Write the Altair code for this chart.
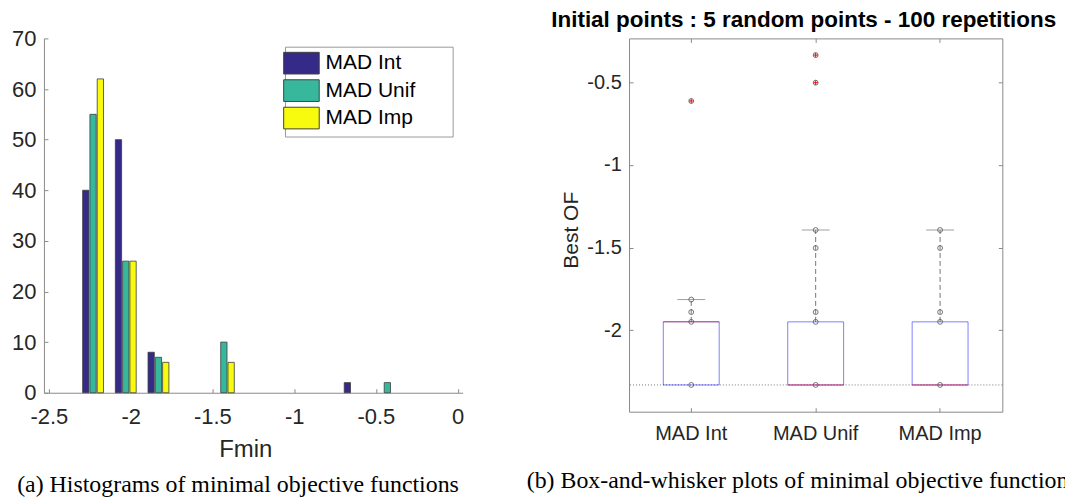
import altair as alt
import pandas as pd

# ---------------- data: histogram panel ----------------
bin_centers = [-2.23, -2.03, -1.83, -1.63, -1.43, -1.23, -1.03, -0.83, -0.63, -0.43]
series_names = ["MAD Int", "MAD Unif", "MAD Imp"]
counts_int = [40, 50, 8, 0, 0, 0, 0, 0, 2, 0]
counts_unif = [55, 26, 7, 0, 10, 0, 0, 0, 0, 2]
counts_imp = [62, 26, 6, 0, 6, 0, 0, 0, 0, 0]
series_colors = ["#352a87", "#37b89d", "#f9fb0e"]
hist_x_ticks = [-2.5, -2, -1.5, -1, -0.5, 0]
hist_y_ticks = [0, 10, 20, 30, 40, 50, 60, 70]

# ---------------- data: box-and-whisker panel ----------------
box_cats = ["MAD Int", "MAD Unif", "MAD Imp"]
box_q1 = [-2.332, -2.332, -2.332]
box_median = [-1.950, -2.332, -2.332]
box_q3 = [-1.950, -1.950, -1.950]
box_whisker_hi = [-1.815, -1.394, -1.394]
points_int = [-0.613, -1.815, -1.891, -1.950, -2.332]
points_unif = [-0.335, -0.502, -1.394, -1.503, -1.891, -1.950, -2.332]
points_imp = [-1.394, -1.503, -1.891, -1.950, -2.332]
outliers_int = [-0.613]
outliers_unif = [-0.335, -0.502]
outliers_imp = []
global_min = [-2.332]
box_y_ticks = [-2, -1.5, -1, -0.5]

caption_a = "(a) Histograms of minimal objective functions"
caption_b = "(b) Box-and-whisker plots of minimal objective functions"
title_b = "Initial points : 5 random points - 100 repetitions"

SANS = "Liberation Sans"
SERIF = "Liberation Serif"
AXIS_GRAY = "#8a8a8a"
TXT = "#262626"
CAP_SIZE = 23.9

# ---------------- build tables ----------------
rows = []
for s, cs in zip(series_names, [counts_int, counts_unif, counts_imp]):
    for c, n in zip(bin_centers, cs):
        rows.append({"center": c, "series": s, "n": n})
hist_df = pd.DataFrame(rows)

box_df = pd.DataFrame({"cat": box_cats, "q1": box_q1, "median": box_median,
                       "q3": box_q3, "whi": box_whisker_hi})
pts = []
for c, vals in zip(box_cats, [points_int, points_unif, points_imp]):
    for v in vals:
        pts.append({"cat": c, "v": v})
pts_df = pd.DataFrame(pts)
outs = []
for c, vals in zip(box_cats, [outliers_int, outliers_unif, outliers_imp]):
    for v in vals:
        outs.append({"cat": c, "v": v})
outs_df = pd.DataFrame(outs)
min_df = pd.DataFrame({"v": global_min})
cap_df = pd.DataFrame({"t": [caption_b]})

# ---------------- left: histogram ----------------
LW, LH = 419.5, 355
bar_offsets = [-7.3, 0, 7.3]

x_hist = alt.X("center:Q",
               scale=alt.Scale(domain=[-2.5, 0], nice=False, zero=False),
               axis=alt.Axis(values=hist_x_ticks, labelExpr="'' + datum.value",
                             labelFont=SANS, labelFontSize=22, labelColor=TXT,
                             labelPadding=14.3, ticks=False, tickSize=0,
                             domainColor=AXIS_GRAY, domainWidth=1,
                             grid=True, gridColor=AXIS_GRAY, gridWidth=1,
                             gridDash=[0, LH - 4, 4, 2000],
                             title="Fmin", titleFont=SANS, titleFontSize=24,
                             titleFontWeight="normal", titleColor=TXT,
                             titleX=201.7, titleY=64, titleAlign="center",
                             titleBaseline="alphabetic", labelFlush=False))
y_hist = alt.Y("n:Q",
               scale=alt.Scale(domain=[0, 70], nice=False),
               axis=alt.Axis(values=hist_y_ticks, labelFont=SANS, labelFontSize=22,
                             labelColor=TXT, labelPadding=8, ticks=False, tickSize=0,
                             domainColor=AXIS_GRAY, domainWidth=1,
                             grid=True, gridColor=AXIS_GRAY, gridWidth=1,
                             gridDash=[4, 3000], title=None))
fill_enc = alt.Fill("series:N",
                    scale=alt.Scale(domain=series_names, range=series_colors),
                    legend=alt.Legend(title=None, orient="none", legendX=241.5, legendY=8.3,
                                      direction="vertical",
                                      symbolType="M-1.64,-1L1.64,-1L1.64,1L-1.64,1Z",
                                      symbolSize=471, symbolStrokeColor="#404040",
                                      symbolStrokeWidth=1, symbolOpacity=1,
                                      labelFont=SANS, labelFontSize=21, labelColor="#000000",
                                      labelOffset=12.7, rowPadding=0.5, padding=5,
                                      strokeColor="#9a9a9a", fillColor="white",
                                      labelLimit=400,
                                      labelExpr="datum.label + '\u2002\u2002\u2002\u200b'"))

hist_base = alt.Chart(hist_df).encode(x=x_hist, y=y_hist, fill=fill_enc)
hist_layers = []
for s, off in zip(series_names, bar_offsets):
    hist_layers.append(
        hist_base.transform_filter((alt.datum.series == s) & (alt.datum.n > 0))
        .mark_bar(width=6.3, xOffset=off, stroke="#3c3c3c", strokeWidth=0.8)
    )

left = alt.layer(*hist_layers).properties(
    width=LW, height=LH,
    view=alt.ViewBackground(stroke="transparent"),
    title=alt.TitleParams(caption_a, orient="bottom", anchor="start", frame="group",
                          font=SERIF, fontSize=CAP_SIZE, fontWeight="normal",
                          color="#000000", offset=11.5, dx=-26.8),
)

# ---------------- right: box plot ----------------
RW, RH = 374, 374
y_dom = [-2.494, -0.234]

x_box = alt.X("cat:N", sort=box_cats,
              scale=alt.Scale(domain=box_cats, paddingInner=0, paddingOuter=0),
              axis=alt.Axis(labelFont=SANS, labelFontSize=20, labelColor=TXT, labelAngle=0,
                            labelPadding=11.9, ticks=False, tickSize=0, domain=False,
                            bandPosition=0.5,
                            grid=True, gridColor=AXIS_GRAY, gridWidth=1,
                            gridDash=[4, RH - 8, 4, 2000], title=None))
y_scale = alt.Scale(domain=y_dom, nice=False, zero=False)
y_axis = alt.Axis(values=box_y_ticks, labelExpr="'' + datum.value",
                  labelFont=SANS, labelFontSize=20, labelColor=TXT, labelPadding=7.8,
                  ticks=False, tickSize=0, domain=False,
                  grid=True, gridColor=AXIS_GRAY, gridWidth=1,
                  gridDash=[4, RW - 8, 4, 2000],
                  title="Best OF", titleFont=SANS, titleFontSize=21,
                  titleFontWeight="normal", titleColor=TXT,
                  titleX=-51.5, titleY=191.7, titleAngle=270, titleAlign="center",
                  titleBaseline="alphabetic")

ref_line = alt.Chart(min_df).mark_rule(color="#555555", strokeWidth=0.8,
                                       strokeDash=[1, 2]).encode(
    y=alt.Y("v:Q", scale=y_scale, axis=y_axis))

box_base = alt.Chart(box_df)
whisk = box_base.mark_rule(color="#777777", strokeWidth=1, strokeDash=[5, 3]).encode(
    x=x_box, y=alt.Y("q3:Q", scale=y_scale, axis=y_axis), y2="whi:Q")
caps = box_base.mark_tick(color="#777777", size=28, thickness=1).encode(
    x=x_box, y=alt.Y("whi:Q", scale=y_scale, axis=y_axis))
boxes = box_base.mark_bar(width=56, fill="white", fillOpacity=0, stroke="#0000ff",
                          strokeOpacity=0.5, strokeWidth=1).encode(
    x=x_box, y=alt.Y("q1:Q", scale=y_scale, axis=y_axis), y2="q3:Q")
medians = box_base.mark_tick(color="#ff0000", opacity=0.6, size=56, thickness=1).encode(
    x=x_box, y=alt.Y("median:Q", scale=y_scale, axis=y_axis))
points = alt.Chart(pts_df).mark_point(shape="circle", filled=False, size=24,
                                      color="#555555", strokeWidth=0.8, opacity=1).encode(
    x=x_box, y=alt.Y("v:Q", scale=y_scale, axis=y_axis))
outliers = alt.Chart(outs_df).mark_point(shape="M-1,0L1,0M0,-1L0,1", filled=False, size=20,
                                         color="#ff0000", strokeWidth=1, opacity=1).encode(
    x=x_box, y=alt.Y("v:Q", scale=y_scale, axis=y_axis))
cap_b = alt.Chart(cap_df).mark_text(align="left", baseline="alphabetic", font=SERIF,
                                    fontSize=CAP_SIZE, color="#000000").encode(
    x=alt.value(-102.5), y=alt.value(RH + 76), text="t:N")

right = alt.layer(ref_line, whisk, caps, boxes, medians, points, outliers, cap_b).properties(
    width=RW, height=RH,
    view=alt.ViewBackground(stroke=AXIS_GRAY, strokeWidth=1),
    title=alt.TitleParams(title_b, anchor="middle", frame="group", font=SANS,
                          fontSize=22.5, fontWeight="bold", color="#000000",
                          offset=7, dx=-12),
)

# the caption of panel (b) runs past the right edge, as in the source figure
chart = alt.hconcat(left, right, spacing=166.2, bounds="flush").properties(
    padding={"left": 3, "top": 0, "right": -14, "bottom": 0}
).configure(font=SANS)

chart.save("out.html", embed_options={"renderer": "svg", "actions": False})
